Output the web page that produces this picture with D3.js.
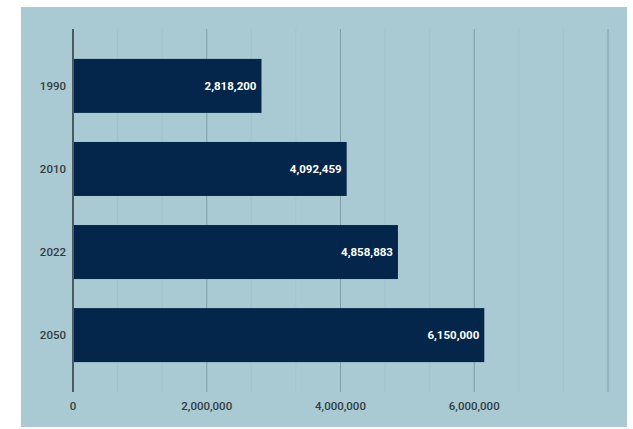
<!DOCTYPE html>
<html>
<head>
<meta charset="utf-8">
<script src="https://cdn.jsdelivr.net/npm/d3@7"></script>
<style>
  body { margin: 0; background: #fff; }
  svg { display: block; font-family: Roboto, "Noto Sans", sans-serif; }
</style>
</head>
<body>
<div id="viz"></div>
<script>
const width = 633;
const height = 429;
const panel = {x: 21, y: 7, w: 606, h: 420};
const margin = {top: 29, right: 19, bottom: 37, left: 73};

// data
const years = ['1990', '2010', '2022', '2050'];
const population = [2818200, 4092459, 4858883, 6150000];
const tickValues = [0, 2000000, 4000000, 6000000];

const bgColor = '#a9c9d3';
const barsColor = '#03264a';

const svg = d3.select('#viz')
  .append('svg')
  .attr('width', width)
  .attr('height', height)
  .attr('viewBox', `0 0 ${width} ${height}`);

svg.append('rect')
  .attr('x', panel.x)
  .attr('y', panel.y)
  .attr('width', panel.w)
  .attr('height', panel.h)
  .attr('fill', bgColor);

const xScale = d3.scaleLinear()
  .domain([0, 8000000])
  .range([margin.left, 608]);

const yScale = d3.scaleBand()
  .domain(years)
  .range([margin.top, height - margin.bottom])
  .paddingInner(0.35)
  .paddingOuter(0.36);

// minor gridlines (thirds)
const minor = d3.range(0, 8000000, 2000000 / 3).filter((d, i) => i % 3 !== 0);
svg.append('g')
  .selectAll('line')
  .data(minor)
  .join('line')
  .attr('x1', d => xScale(d))
  .attr('x2', d => xScale(d))
  .attr('y1', margin.top)
  .attr('y2', height - margin.bottom)
  .attr('stroke', '#a2c2cc')
  .attr('stroke-width', 1);

// major gridlines
svg.append('g')
  .selectAll('line')
  .data([2000000, 4000000, 6000000, 8000000])
  .join('line')
  .attr('x1', d => xScale(d))
  .attr('x2', d => xScale(d))
  .attr('y1', margin.top)
  .attr('y2', height - margin.bottom)
  .attr('stroke', '#7f9ea8')
  .attr('stroke-width', 1);

// bars
svg.append('g')
  .selectAll('rect')
  .data(years)
  .join('rect')
  .attr('x', xScale(0))
  .attr('y', d => yScale(d))
  .attr('width', (d, i) => xScale(population[i]) - xScale(0))
  .attr('height', yScale.bandwidth())
  .attr('fill', barsColor);

// value labels
svg.append('g')
  .selectAll('text')
  .data(years)
  .join('text')
  .attr('x', (d, i) => xScale(population[i]) - 5)
  .attr('y', d => yScale(d) + yScale.bandwidth() / 2)
  .attr('dy', '0.35em')
  .attr('text-anchor', 'end')
  .attr('fill', '#ffffff')
  .attr('font-size', 11.5)
  .attr('font-weight', 'bold')
  .text((d, i) => d3.format(',')(population[i]));

// zero axis line
svg.append('line')
  .attr('x1', xScale(0))
  .attr('x2', xScale(0))
  .attr('y1', margin.top)
  .attr('y2', height - margin.bottom)
  .attr('stroke', '#4a5a60')
  .attr('stroke-width', 2);

// y labels
svg.append('g')
  .selectAll('text')
  .data(years)
  .join('text')
  .attr('x', 66)
  .attr('y', d => yScale(d) + yScale.bandwidth() / 2)
  .attr('dy', '0.35em')
  .attr('text-anchor', 'end')
  .attr('fill', '#333d42')
  .attr('font-size', 11.5)
  .attr('font-weight', 500)
  .text(d => d);

// x labels
svg.append('g')
  .selectAll('text')
  .data(tickValues)
  .join('text')
  .attr('x', d => xScale(d))
  .attr('y', 406)
  .attr('dy', '0.35em')
  .attr('text-anchor', 'middle')
  .attr('fill', '#333d42')
  .attr('font-size', 11.5)
  .attr('font-weight', 500)
  .text(d => d3.format(',')(d));
</script>
</body>
</html>
